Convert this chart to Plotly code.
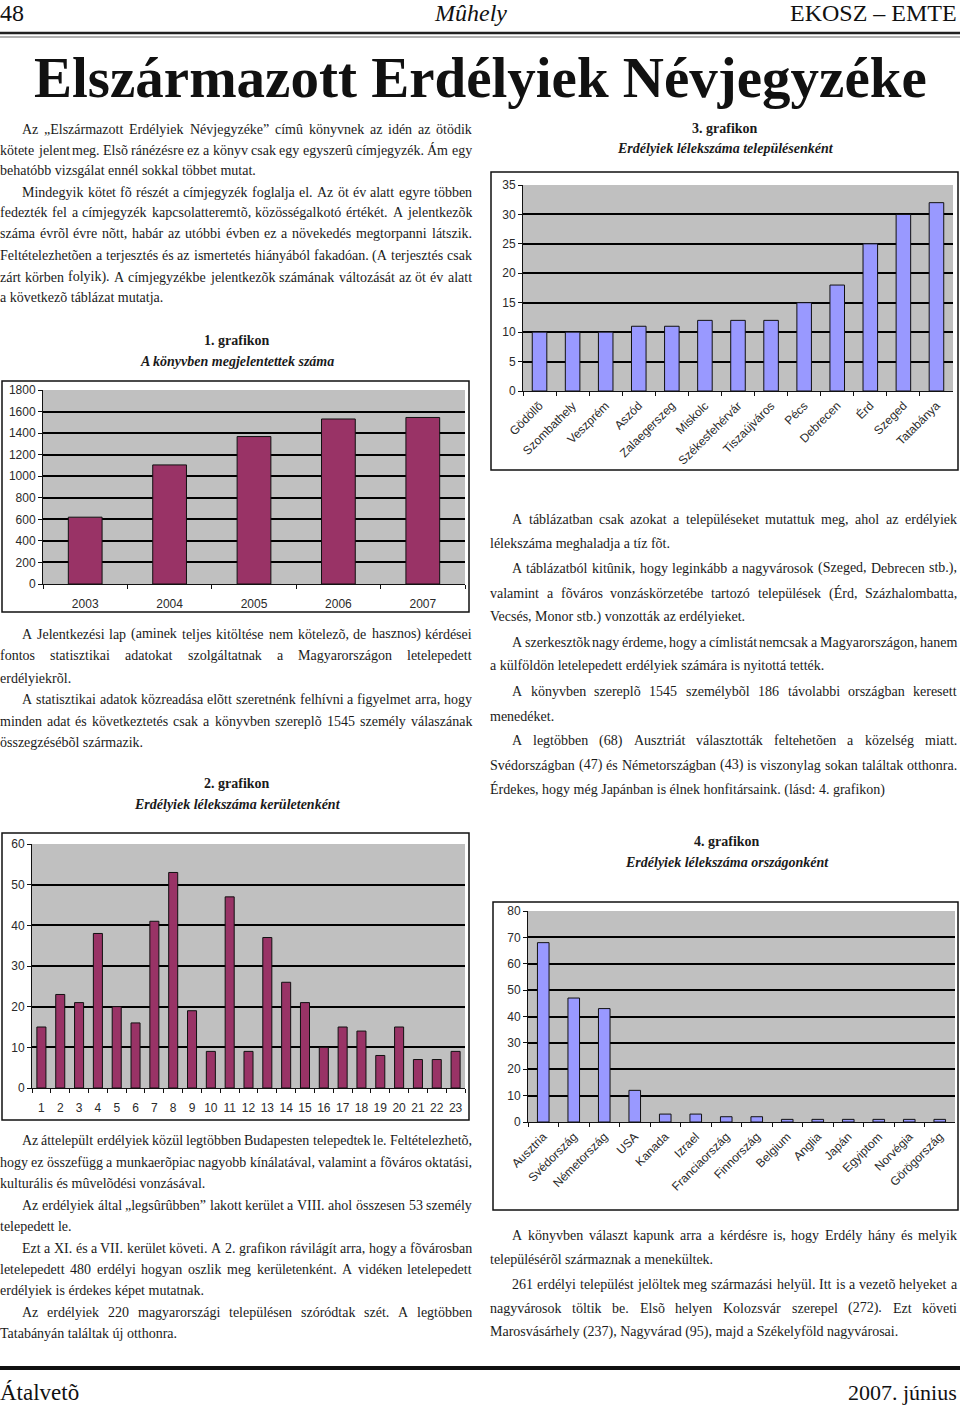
import unicodedata
import plotly.graph_objects as go

W, H = 960, 1406

# ---------------- data ----------------
years = ["2003", "2004", "2005", "2006", "2007"]
people_per_year = [620, 1105, 1368, 1531, 1545]

districts = [str(i) for i in range(1, 24)]
district_counts = [15, 23, 21, 38, 20, 16, 41, 53, 19, 9, 47, 9, 37, 26, 21, 10, 15, 14, 8, 15, 7, 7, 9]

towns = ["Gödöllõ", "Szombathely", "Veszprém", "Aszód", "Zalaegerszeg", "Miskolc",
         "Székesfehérvár", "Tiszaújváros", "Pécs", "Debrecen", "Érd", "Szeged", "Tatabánya"]
town_counts = [10, 10, 10, 11, 11, 12, 12, 12, 15, 18, 25, 30, 32]

countries = ["Ausztria", "Svédország", "Németország", "USA", "Kanada", "Izrael",
             "Franciaország", "Finnország", "Belgium", "Anglia", "Japán", "Egyiptom",
             "Norvégia", "Görögország"]
country_counts = [68, 47, 43, 12, 3, 3, 2, 2, 1, 1, 1, 1, 1, 1]


def px(x):
    return x / W


def py(y):
    return 1 - y / H


charts = [
    dict(cats=years, vals=people_per_year, color="#993366", plot=(43, 390, 465, 584),
         frame=(2, 381, 469, 612), ymax=1800, dtick=200, angle=0, width=0.4, standoff=9),
    dict(cats=districts, vals=district_counts, color="#993366", plot=(32, 844, 465, 1088),
         frame=(2, 833, 469, 1120), ymax=60, dtick=10, angle=0, width=0.48, standoff=9),
    dict(cats=towns, vals=town_counts, color="#9999ff", plot=(523, 185, 953, 391),
         frame=(491, 172, 958, 470), ymax=35, dtick=5, angle=-45, width=0.44, standoff=2),
    dict(cats=countries, vals=country_counts, color="#9999ff", plot=(528, 911, 955, 1122),
         frame=(493, 902, 958, 1210), ymax=80, dtick=10, angle=-45, width=0.38, standoff=2),
]

fig = go.Figure()
shapes = []
annotations = []
layout_axes = {}
TICKFONT = dict(family="Liberation Sans, Arial", size=12, color="#2a2a2a")

for i, c in enumerate(charts):
    n = "" if i == 0 else str(i + 1)
    x0, y0, x1, y1 = c["plot"]
    fx0, fy0, fx1, fy1 = c["frame"]
    # chart frame
    shapes.append(dict(type="rect", xref="paper", yref="paper", x0=px(fx0), x1=px(fx1),
                       y0=py(fy1), y1=py(fy0), line=dict(color="#111", width=1.5),
                       fillcolor="white", layer="below"))
    # gray plot area
    shapes.append(dict(type="rect", xref="paper", yref="paper", x0=px(x0), x1=px(x1),
                       y0=py(y1), y1=py(y0), line=dict(width=0),
                       fillcolor="#c0c0c0", layer="below"))
    fig.add_trace(go.Bar(x=c["cats"], y=c["vals"], xaxis="x" + n, yaxis="y" + n,
                         marker=dict(color=c["color"], line=dict(color="#111", width=1)),
                         width=c["width"], showlegend=False, hoverinfo="x+y"))
    layout_axes["xaxis" + n] = dict(
        domain=[px(x0), px(x1)], anchor="y" + n, type="category",
        showline=True, linecolor="#111", linewidth=1, ticks="outside", tickson="boundaries",
        ticklen=4, tickcolor="#111", showgrid=False, tickangle=c["angle"],
        ticklabelstandoff=c["standoff"], tickfont=TICKFONT,
        range=[-0.5, len(c["cats"]) - 0.5], fixedrange=True, automargin=False)
    layout_axes["yaxis" + n] = dict(
        domain=[py(y1), py(y0)], anchor="x" + n, range=[0, c["ymax"]], dtick=c["dtick"],
        showline=True, linecolor="#111", linewidth=1, ticks="outside", ticklen=4,
        tickcolor="#111", showgrid=True, gridcolor="#000", gridwidth=1.5, zeroline=False,
        tickfont=TICKFONT, fixedrange=True, automargin=False)

# ---------------- text ----------------
SERIF = "Liberation Serif, Times New Roman, serif"
BODY = 14.0
INK = "#1a1a1a"

NARROW = {' ': 250, ',': 250, '.': 250, ':': 278, ';': 278, '(': 333, ')': 333, '-': 333,
          '!': 333, '?': 444, '"': 408, "'": 180, '„': 444, '”': 444, '“': 444, '–': 500}
LOWER = dict(a=444, b=500, c=444, d=500, e=444, f=333, g=500, h=500, i=278, j=278, k=500,
             l=278, m=778, n=500, o=500, p=500, q=500, r=333, s=389, t=278, u=500, v=500,
             w=722, x=500, y=500, z=444)
UPPER = dict(A=722, B=667, C=667, D=722, E=611, F=556, G=722, H=722, I=333, J=389, K=722,
             L=611, M=889, N=722, O=722, P=556, Q=722, R=667, S=556, T=611, U=722, V=722,
             W=944, X=722, Y=722, Z=611)


def char_w(ch):
    if ch in NARROW:
        return NARROW[ch]
    base = unicodedata.normalize("NFD", ch)[0]
    if base.isdigit():
        return 500
    if base in LOWER:
        return LOWER[base]
    if base in UPPER:
        return UPPER[base]
    return 500


def word_w(w, size=BODY):
    return sum(char_w(ch) for ch in w) * size / 1000.0


def text(x, y, s, size=BODY, anchor="left", family=SERIF, color=INK):
    annotations.append(dict(x=px(x), y=py(y), xref="paper", yref="paper", text=s,
                            showarrow=False, xanchor=anchor, yanchor="middle",
                            borderpad=0, borderwidth=0,
                            font=dict(family=family, size=size, color=color)))


def block(lines, xl, xr, indent=22):
    for s, y, first, just in lines:
        xs = xl + (indent if first else 0)
        words = s.split()
        if just and len(words) > 1:
            nat = sum(word_w(w) for w in words)
            gap = (xr - xs - nat) / (len(words) - 1)
            if gap >= 1.5:
                x = xs
                for w in words:
                    text(x, y, w)
                    x += word_w(w) + gap
                continue
        text(xs, y, s)


left1 = [
    ("Az „Elszármazott Erdélyiek Névjegyzéke” címû könyvnek az idén az ötödik", 129, True, True),
    ("kötete jelent meg. Elsõ ránézésre ez a könyv csak egy egyszerû címjegyzék.  Ám egy", 150, False, True),
    ("behatóbb vizsgálat ennél sokkal többet mutat.", 171, False, False),
    ("Mindegyik kötet fõ részét a címjegyzék foglalja el. Az öt év alatt egyre többen", 192, True, True),
    ("fedezték fel a címjegyzék kapcsolatteremtõ, közösségalkotó értékét. A jelentkezõk", 213, False, True),
    ("száma évrõl évre nõtt, habár az utóbbi évben ez a növekedés megtorpanni látszik.", 234, False, True),
    ("Feltételezhetõen a terjesztés és az ismertetés hiányából fakadóan. (A terjesztés csak", 256, False, True),
    ("zárt körben folyik). A címjegyzékbe jelentkezõk számának változását az öt év alatt", 277, False, True),
    ("a következõ táblázat mutatja.", 298, False, False),
]
left2 = [
    ("A Jelentkezési lap (aminek teljes kitöltése nem kötelezõ, de hasznos) kérdései", 634, True, True),
    ("fontos statisztikai adatokat szolgáltatnak a Magyarországon letelepedett", 656, False, True),
    ("erdélyiekrõl.", 678, False, False),
    ("A statisztikai adatok közreadása elõtt szeretnénk felhívni a figyelmet arra, hogy", 699, True, True),
    ("minden adat és következtetés csak a könyvben szereplõ 1545 személy válaszának", 721, False, True),
    ("összegzésébõl származik.", 742, False, False),
]
left3 = [
    ("Az áttelepült erdélyiek közül legtöbben Budapesten telepedtek le. Feltételezhetõ,", 1140, True, True),
    ("hogy ez összefügg a munkaerõpiac nagyobb kínálatával, valamint a fõváros oktatási,", 1162, False, True),
    ("kulturális és mûvelõdési vonzásával.", 1183, False, False),
    ("Az erdélyiek által „legsûrûbben” lakott kerület a VIII. ahol összesen 53 személy", 1205, True, True),
    ("telepedett le.", 1226, False, False),
    ("Ezt a XI. és a VII. kerület követi. A 2. grafikon rávilágít arra, hogy a fõvárosban", 1248, True, True),
    ("letelepedett 480 erdélyi hogyan oszlik meg kerületenként. A vidéken letelepedett", 1269, False, True),
    ("erdélyiek is érdekes képet mutatnak.", 1290, False, False),
    ("Az erdélyiek 220 magyarországi településen szóródtak szét. A legtöbben", 1312, True, True),
    ("Tatabányán találtak új otthonra.", 1333, False, False),
]
right1 = [
    ("A táblázatban csak azokat a településeket mutattuk meg, ahol az erdélyiek", 519, True, True),
    ("lélekszáma meghaladja a tíz fõt.", 543, False, False),
    ("A táblázatból kitûnik, hogy leginkább a nagyvárosok (Szeged, Debrecen stb.),", 568, True, True),
    ("valamint a fõváros vonzáskörzetébe tartozó települések (Érd, Százhalombatta,", 593, False, True),
    ("Vecsés, Monor stb.) vonzották az erdélyieket.", 617, False, False),
    ("A szerkesztõk nagy érdeme, hogy a címlistát nemcsak a Magyarországon, hanem", 642, True, True),
    ("a külföldön letelepedett erdélyiek számára is nyitottá tették.", 666, False, False),
    ("A könyvben szereplõ 1545 személybõl 186 távolabbi országban keresett", 691, True, True),
    ("menedéket.", 716, False, False),
    ("A legtöbben (68) Ausztriát választották feltehetõen a közelség miatt.", 741, True, True),
    ("Svédországban (47) és Németországban (43) is viszonylag sokan találtak otthonra.", 765, False, True),
    ("Érdekes, hogy még Japánban is élnek honfitársaink. (lásd: 4. grafikon)", 789, False, False),
]
right2 = [
    ("A könyvben választ kapunk arra a kérdésre is, hogy Erdély hány és melyik", 1235, True, True),
    ("településérõl származnak a menekültek.", 1259, False, False),
    ("261 erdélyi települést jelöltek meg származási helyül.  Itt is a vezetõ helyeket a", 1284, True, True),
    ("nagyvárosok töltik be.  Elsõ helyen Kolozsvár szerepel (272). Ezt követi", 1308, False, True),
    ("Marosvásárhely (237), Nagyvárad (95), majd a Székelyföld nagyvárosai.", 1332, False, False),
]

block(left1, 0, 472)
block(left2, 0, 472)
block(left3, 0, 472)
block(right1, 490, 957)
block(right2, 490, 957)

# chart captions
captions = [
    (237, 340, "1. grafikon", "A könyvben megjelentettek száma"),
    (237, 783, "2. grafikon", "Erdélyiek lélekszáma kerületenként"),
    (725, 128, "3. grafikon", "Erdélyiek lélekszáma településenként"),
    (727, 841, "4. grafikon", "Erdélyiek lélekszáma országonként"),
]
for cx, cy, t1, t2 in captions:
    text(cx, cy, "<b>" + t1 + "</b>", size=14, anchor="center")
    text(cx, cy + 21, "<b><i>" + t2 + "</i></b>", size=14, anchor="center")

# header
text(0, 13, "48", size=24, color="#111")
text(470, 13, "<i>Mûhely</i>", size=24, anchor="center", color="#111")
text(957, 13, "EKOSZ – EMTE", size=24, anchor="right", color="#111")
shapes.append(dict(type="line", xref="paper", yref="paper", x0=0, x1=1, y0=py(33), y1=py(33),
                   line=dict(color="#222", width=2.5)))
shapes.append(dict(type="line", xref="paper", yref="paper", x0=0, x1=1, y0=py(37), y1=py(37),
                   line=dict(color="#999", width=1.5)))
text(480, 78, "<b>Elszármazott Erdélyiek Névjegyzéke</b>", size=57, anchor="center", color="#111")

# footer
shapes.append(dict(type="line", xref="paper", yref="paper", x0=0, x1=1, y0=py(1368), y1=py(1368),
                   line=dict(color="#111", width=4)))
text(0, 1392, "Átalvetõ", size=23, color="#111")
text(957, 1392, "2007. június", size=22, anchor="right", color="#111")

fig.update_layout(
    template="none",
    width=W, height=H, autosize=False,
    margin=dict(l=0, r=0, t=0, b=0, pad=0),
    paper_bgcolor="white", plot_bgcolor="rgba(0,0,0,0)",
    shapes=shapes, annotations=annotations, showlegend=False,
    **layout_axes,
)

POST = ("document.body.style.margin='0px';document.body.style.padding='0px';"
        "document.body.style.overflow='hidden';"
        "document.documentElement.style.overflow='hidden';")

fig.write_html("out.html", config={"displayModeBar": False}, post_script=POST)
